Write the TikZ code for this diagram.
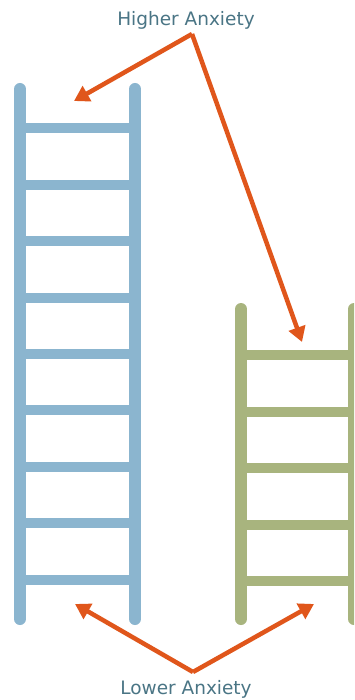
\documentclass[tikz,border=0pt]{standalone}
\usepackage{fontspec}
\setmainfont{DejaVu Sans}
\usetikzlibrary{arrows.meta}
\definecolor{ladblue}{HTML}{8BB5CF}
\definecolor{ladgreen}{HTML}{A8B47E}
\definecolor{arrorange}{HTML}{E0561B}
\definecolor{txtteal}{HTML}{4A7585}
\tikzset{
  rail/.style={line width=12pt, line cap=round},
  rung/.style={line width=10pt},
  pointer/.style={arrorange, line width=4.5pt, -{Triangle[length=15pt,width=17pt]}},
  label/.style={text=txtteal, font=\fontsize{18.5}{21}\selectfont, inner sep=0pt}
}
\begin{document}
\begin{tikzpicture}[x=1pt,y=-1pt]
\useasboundingbox (0,0) rectangle (354,700);
\clip (0,0) rectangle (354,700);
\fill[white] (0,0) rectangle (354,700);
% blue ladder
\foreach \y in {128,185,241,298,354,410,467,523,580}
  \draw[rung, ladblue] (20,\y) -- (135,\y);
\draw[rail, ladblue] (20,89) -- (20,619);
\draw[rail, ladblue] (135,89) -- (135,619);
% green ladder
\foreach \y in {355,412,468,525,581}
  \draw[rung, ladgreen] (241,\y) -- (354,\y);
\draw[rail, ladgreen] (241,309) -- (241,619);
\draw[rail, ladgreen] (354,309) -- (354,619);
% labels
\node[label] (hi) at (186,20) {Higher Anxiety};
\node[label] (lo) at (186,689) {Lower Anxiety};
\coordinate (hiapex) at (192,34);
\coordinate (loapex) at (193,672);
\coordinate (hiL) at (74,101);
\coordinate (hiR) at (302,342);
\coordinate (loL) at (75,604);
\coordinate (loR) at (314,604);
\draw[pointer] (hiapex) -- (hiL);
\draw[pointer] (hiapex) -- (hiR);
\draw[pointer] (loapex) -- (loL);
\draw[pointer] (loapex) -- (loR);
\end{tikzpicture}
\end{document}
